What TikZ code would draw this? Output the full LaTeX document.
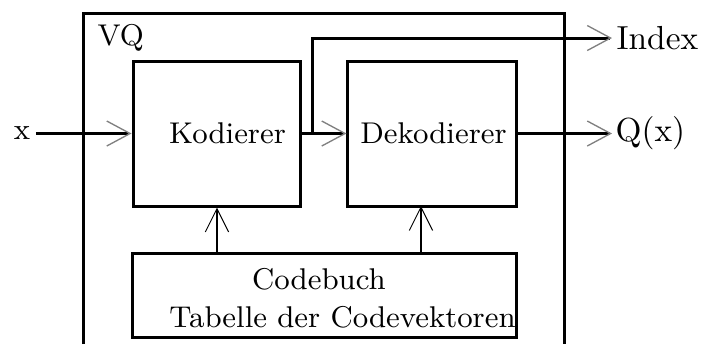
\documentclass[tikz,border=0pt]{standalone}
\usepackage{tikz}
\usepackage{xcolor}
\usetikzlibrary{arrows.meta}

\tikzset{
  block/.style={draw, line width=0.9pt, inner sep=0pt},
  txt/.style={font=\fontsize{9}{11}\selectfont, inner sep=0pt},
  outtxt/.style={font=\fontsize{10}{12}\selectfont, inner sep=0pt, anchor=west},
  sig/.style={line width=0.9pt, -{Straight Barb[length=7pt,width=7.5pt,line width=0.4pt,color=gray]}},
  upsig/.style={line width=0.7pt, -{Straight Barb[length=7pt,width=7pt,line width=0.3pt]}}
}

\begin{document}
\begin{tikzpicture}[x=0.3pt, y=-0.3pt]
  % Page frame
  \useasboundingbox (0,0) rectangle (701,344);

  % Outer VQ frame (runs off the bottom)
  \draw[line width=0.9pt] (84,344) -- (84,13) -- (565,13) -- (565,344);
  \node[txt, anchor=west] (vq) at (97,38) {VQ};

  % Blocks
  \node[block, minimum width=50.4pt, minimum height=43.5pt] (kod) at (217,133.5) {};
  \node[txt] (kodtext) at (227.5,133.5) {Kodierer};
  \node[block, minimum width=50.7pt, minimum height=43.5pt] (dek) at (432.5,133.5) {};
  \node[txt] (dektext) at (433.5,133.5) {Dekodierer};
  \node[block, minimum width=115.5pt, minimum height=25.2pt] (cb) at (324.5,295) {};
  \node[txt] (cbtop) at (319,279) {Codebuch};
  \node[txt] (cbbot) at (342.5,317) {Tabelle der Codevektoren};

  % Signal lines
  \node[txt] (x) at (22,133) {x};
  \coordinate (xin) at (36,133.5);
  \draw[sig] (xin) -- (kod.west);
  \draw[sig] (kod.east) -- (dek.west);

  \coordinate (br) at (313,133.5);
  \coordinate (idx) at (612,38);
  \draw[sig] (br) |- (idx);
  \node[outtxt] (index) at (616,38) {Index};

  \coordinate (qout) at (612,133.5);
  \draw[sig] (dek.east) -- (qout);
  \node[outtxt] (q) at (615,133.5) {Q(x)};

  % Codebook feeds both blocks
  \coordinate (d1) at (421,206);
  \draw[upsig] (cb.north -| kod.south) -- (kod.south);
  \draw[upsig] (cb.north -| d1) -- (d1);
\end{tikzpicture}
\end{document}
